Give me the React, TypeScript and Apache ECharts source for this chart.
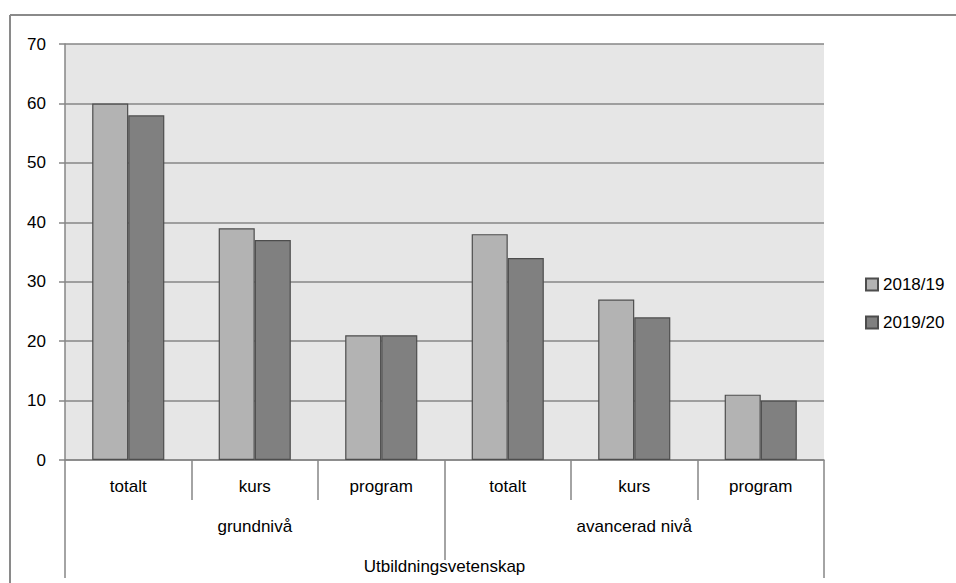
import React, { useEffect, useRef } from "react";
import * as echarts from "echarts";

const categories = ["totalt", "kurs", "program", "totalt", "kurs", "program"];
const levels = ["grundnivå", "avancerad nivå"];
const areas = ["Utbildningsvetenskap"];
const seriesNames = ["2018/19", "2019/20"];
const values1819 = [60, 39, 21, 38, 27, 11];
const values1920 = [58, 37, 21, 34, 24, 10];

const FONT = "'Liberation Sans', Arial, sans-serif";
const FS = 17;
const GRAY = "#868686";

export default function App() {
  const ref = useRef<HTMLDivElement>(null);
  useEffect(() => {
    if (!ref.current) return;
    const chart = echarts.init(ref.current, null, { renderer: "svg" });
    const textStyle = { fontFamily: FONT, fontSize: FS, color: "#000" };
    chart.setOption({
      animation: false,
      textStyle: { fontFamily: FONT },
      grid: {
        left: 65,
        top: 44,
        right: 132,
        bottom: 123,
        show: true,
        backgroundColor: "#e6e6e6",
        borderWidth: 0,
      },
      legend: {
        orient: "vertical",
        left: 865,
        top: 276,
        padding: 0,
        itemWidth: 12,
        itemHeight: 12,
        itemGap: 21,
        textStyle: { ...textStyle },
        data: seriesNames.map((n) => ({ name: n, icon: "rect" })),
      },
      xAxis: [
        {
          type: "category",
          data: categories,
          position: "bottom",
          axisLine: { show: true, lineStyle: { color: GRAY, width: 1.5 } },
          axisTick: { show: true, length: 40, lineStyle: { color: GRAY, width: 1.5 } },
          axisLabel: { ...textStyle, margin: 18, interval: 0 },
          splitLine: { show: false },
        },
        {
          type: "category",
          data: levels,
          position: "bottom",
          offset: 40,
          axisLine: { show: false },
          axisTick: { show: true, length: 60, lineStyle: { color: GRAY, width: 1.5 } },
          axisLabel: { ...textStyle, margin: 18, interval: 0 },
          splitLine: { show: false },
        },
        {
          type: "category",
          data: areas,
          position: "bottom",
          offset: 100,
          axisLine: { show: false },
          axisTick: { show: true, length: 18, lineStyle: { color: GRAY, width: 1.5 } },
          axisLabel: { ...textStyle, margin: -2, interval: 0 },
          splitLine: { show: false },
        },
      ],
      yAxis: {
        type: "value",
        min: 0,
        max: 70,
        interval: 10,
        axisLine: { show: true, lineStyle: { color: GRAY, width: 1.5 } },
        axisTick: { show: true, length: 6, lineStyle: { color: GRAY, width: 1.5 } },
        axisLabel: { ...textStyle, margin: 19 },
        splitLine: { show: true, lineStyle: { color: GRAY, width: 1.5 } },
      },
      series: [
        {
          name: seriesNames[0],
          type: "bar",
          data: values1819,
          barGap: "0%",
          barCategoryGap: "43%",
          itemStyle: { color: "#b3b3b3", borderColor: "#4d4d4d", borderWidth: 1.2 },
        },
        {
          name: seriesNames[1],
          type: "bar",
          data: values1920,
          barGap: "0%",
          barCategoryGap: "43%",
          itemStyle: { color: "#808080", borderColor: "#4d4d4d", borderWidth: 1.2 },
        },
      ],
      graphic: [
        {
          type: "line",
          shape: { x1: 10, y1: 15, x2: 956, y2: 15 },
          style: { stroke: "#8a8a8a", lineWidth: 2 },
        },
        {
          type: "line",
          shape: { x1: 10, y1: 15, x2: 10, y2: 583 },
          style: { stroke: "#8a8a8a", lineWidth: 2 },
        },
      ],
    });
    return () => chart.dispose();
  }, []);
  return (
    <div
      ref={ref}
      style={{ position: "fixed", left: 0, top: 0, width: 956, height: 583, background: "#fff" }}
    />
  );
}
